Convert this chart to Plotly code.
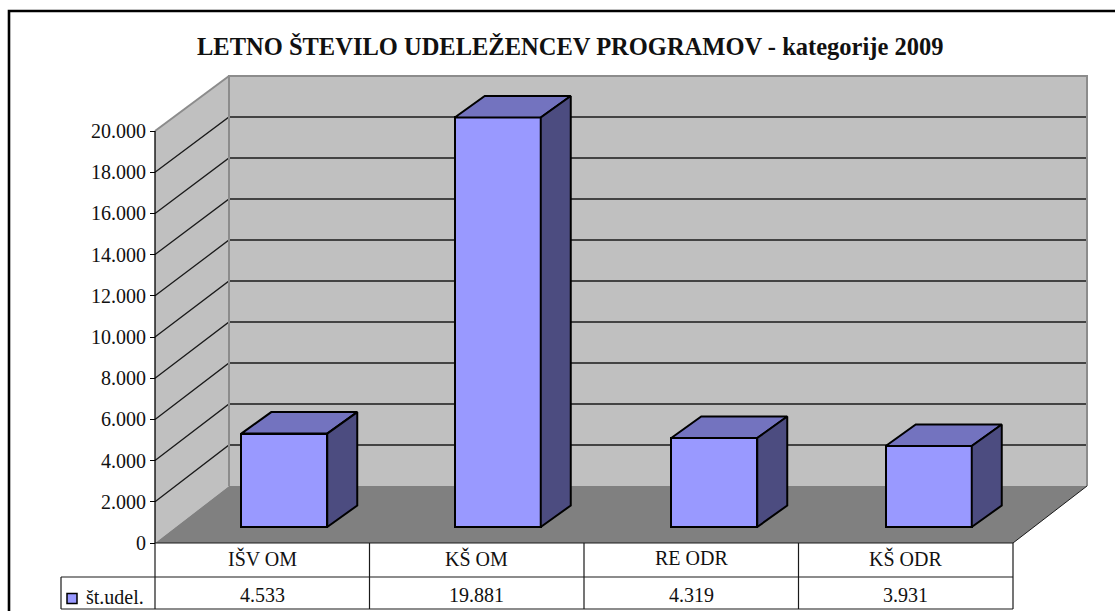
import plotly.graph_objects as go

# ---- data
categories = ["IŠV OM", "KŠ OM", "RE ODR", "KŠ ODR"]
values = [4533, 19881, 4319, 3931]
value_labels = ["4.533", "19.881", "4.319", "3.931"]
series_name = "št.udel."
y_ticks = list(range(0, 20001, 2000))
title_text = "LETNO ŠTEVILO UDELEŽENCEV PROGRAMOV - kategorije 2009"

# ---- layout constants (pixels of the 1115x611 page)
W, H = 1115, 611
PX0, PY0 = 155, 543       # data origin on the page
SLOT = 214.5              # px per category
PXV = 412 / 20000         # px per value unit
DEPTH_X, DEPTH_Y = 74, 57 # wall depth
BACK_SCALE = 410 / 412    # the back wall is drawn slightly shorter
BAR_W, BAR_DX, BAR_DY = 86, 30, 21.5
BAR_SHIFTS, BAR_LIFT = [22, 21, 23, 23], 16
SERIF = "Liberation Serif, Times New Roman, serif"
FRONT, TOP, SIDE = "#9999ff", "#7373bf", "#4c4c80"
WALL, FLOOR, EDGE = "#c0c0c0", "#808080", "#8c8c8c"


def ux(px):
    return (px - PX0) / SLOT


def uy(py):
    return (PY0 - py) / PXV


def dxu(px):
    return px / SLOT


def dyu(px):
    return px / PXV


def path(points, close=True):
    s = "M " + " L ".join(f"{a},{b}" for a, b in points)
    return s + (" Z" if close else "")


n = len(categories)
DX, DY = dxu(DEPTH_X), dyu(DEPTH_Y)
vmax = y_ticks[-1]
shapes = []


def back(v):
    return DY + v * BACK_SCALE


def add_poly(points, fill=None, color="black", width=1.0, close=True):
    shapes.append(dict(type="path", xref="x", yref="y", layer="below",
                       path=path(points, close),
                       fillcolor=fill if fill else "rgba(0,0,0,0)",
                       line=dict(color=color, width=width)))


# walls and floor
add_poly([(0, 0), (DX, DY), (DX, back(vmax)), (0, vmax)], WALL, WALL, 0)
add_poly([(DX, DY), (n + DX, DY), (n + DX, back(vmax)), (DX, back(vmax))], WALL, WALL, 0)
add_poly([(0, 0), (DX, DY), (n + DX, DY), (n, 0)], FLOOR, FLOOR, 0)
# gridlines
for t in y_ticks[1:-1]:
    add_poly([(0, t), (DX, back(t)), (n + DX, back(t))], None, "#1a1a1a", 1.3, False)
# wall edges
add_poly([(DX, DY), (DX, back(vmax)), (n + DX, back(vmax)), (n + DX, DY)], None, EDGE, 2, False)
add_poly([(0, vmax), (DX, back(vmax))], None, EDGE, 2, False)
add_poly([(n, 0), (n + DX, DY)], None, "#1a1a1a", 1, False)
# value axis line
add_poly([(0, 0), (0, vmax)], None, "black", 1.3, False)

# data table rules
row1, row2, row3 = 543, 577, 609
table_left = 61
for i in range(n + 1):
    add_poly([(i, uy(row1)), (i, uy(row3))], None, "#1a1a1a", 1.2, False)
add_poly([(0, uy(row1)), (n, uy(row1))], None, "#1a1a1a", 1.2, False)
add_poly([(ux(table_left), uy(row2)), (n, uy(row2))], None, "#1a1a1a", 1.2, False)
add_poly([(ux(table_left), uy(row3)), (n, uy(row3))], None, "#1a1a1a", 1.2, False)
add_poly([(ux(table_left), uy(row2)), (ux(table_left), uy(row3))], None, "#1a1a1a", 1.2, False)
# outer frame of the chart
add_poly([(ux(9), uy(H + 2)), (ux(9), uy(11)), (ux(W + 2), uy(11))], None, "black", 2.6, False)

fig = go.Figure()
base = dyu(BAR_LIFT)
centers = [i + 0.5 + dxu(s) for i, s in enumerate(BAR_SHIFTS)]
half = dxu(BAR_W) / 2
bdx, bdy = dxu(BAR_DX), dyu(BAR_DY)

# front faces
fig.add_trace(go.Bar(x=centers, y=values, base=base, width=2 * half,
                     marker=dict(color=FRONT, line=dict(color="black", width=2)),
                     showlegend=False, hoverinfo="skip"))
# top and side faces
for c, v in zip(centers, values):
    xl, xr, y0, y1 = c - half, c + half, base, base + v
    top = [(xl, y1), (xr, y1), (xr + bdx, y1 + bdy), (xl + bdx, y1 + bdy), (xl, y1)]
    side = [(xr, y0), (xr + bdx, y0 + bdy), (xr + bdx, y1 + bdy), (xr, y1), (xr, y0)]
    for poly, col in ((top, TOP), (side, SIDE)):
        fig.add_trace(go.Scatter(x=[p[0] for p in poly], y=[p[1] for p in poly],
                                 mode="lines", fill="toself", fillcolor=col,
                                 line=dict(color="black", width=2),
                                 showlegend=False, hoverinfo="skip"))
# legend key in the table
fig.add_trace(go.Scatter(x=[ux(72)], y=[uy(598.5)], mode="markers",
                         marker=dict(symbol="square", size=10, color=FRONT,
                                     line=dict(color="black", width=1.5)),
                         showlegend=False, hoverinfo="skip"))

annotations = []


def text(x, py, s, size=20, anchor="center", bold=False):
    annotations.append(dict(x=x, y=uy(py), xref="x", yref="y", text=f"<b>{s}</b>" if bold else s,
                            showarrow=False, xanchor=anchor, yanchor="middle",
                            font=dict(family=SERIF, size=size, color="#111111")))


for i, (c, lab) in enumerate(zip(categories, value_labels)):
    text(i + 0.5, 558, c)
    text(i + 0.5, 594.5, lab)
text(ux(84), 597, series_name, anchor="left")
text(ux(569.5), 46, title_text, size=24.5, bold=True)

fig.update_layout(
    width=W, height=H, autosize=False,
    margin=dict(l=0, r=0, t=0, b=0),
    paper_bgcolor="white", plot_bgcolor="white",
    separators=",.",
    bargap=0, barmode="overlay",
    shapes=shapes, annotations=annotations,
    font=dict(family=SERIF, size=20, color="#111111"),
    xaxis=dict(range=[ux(0), ux(W)], visible=False, domain=[0, 1], fixedrange=True),
    yaxis=dict(range=[uy(H), uy(0)], domain=[0, 1], anchor="free", position=PX0 / W,
               tickmode="array", tickvals=y_ticks, tickformat=",d",
               ticks="outside", ticklen=5, tickwidth=1.3, tickcolor="black",
               showgrid=False, zeroline=False, showline=False,
               tickfont=dict(family=SERIF, size=20, color="#111111"), fixedrange=True),
)

fig.write_html("out.html", config=dict(displayModeBar=False),
               post_script="document.documentElement.style.overflow='hidden';document.body.style.margin='0';")
